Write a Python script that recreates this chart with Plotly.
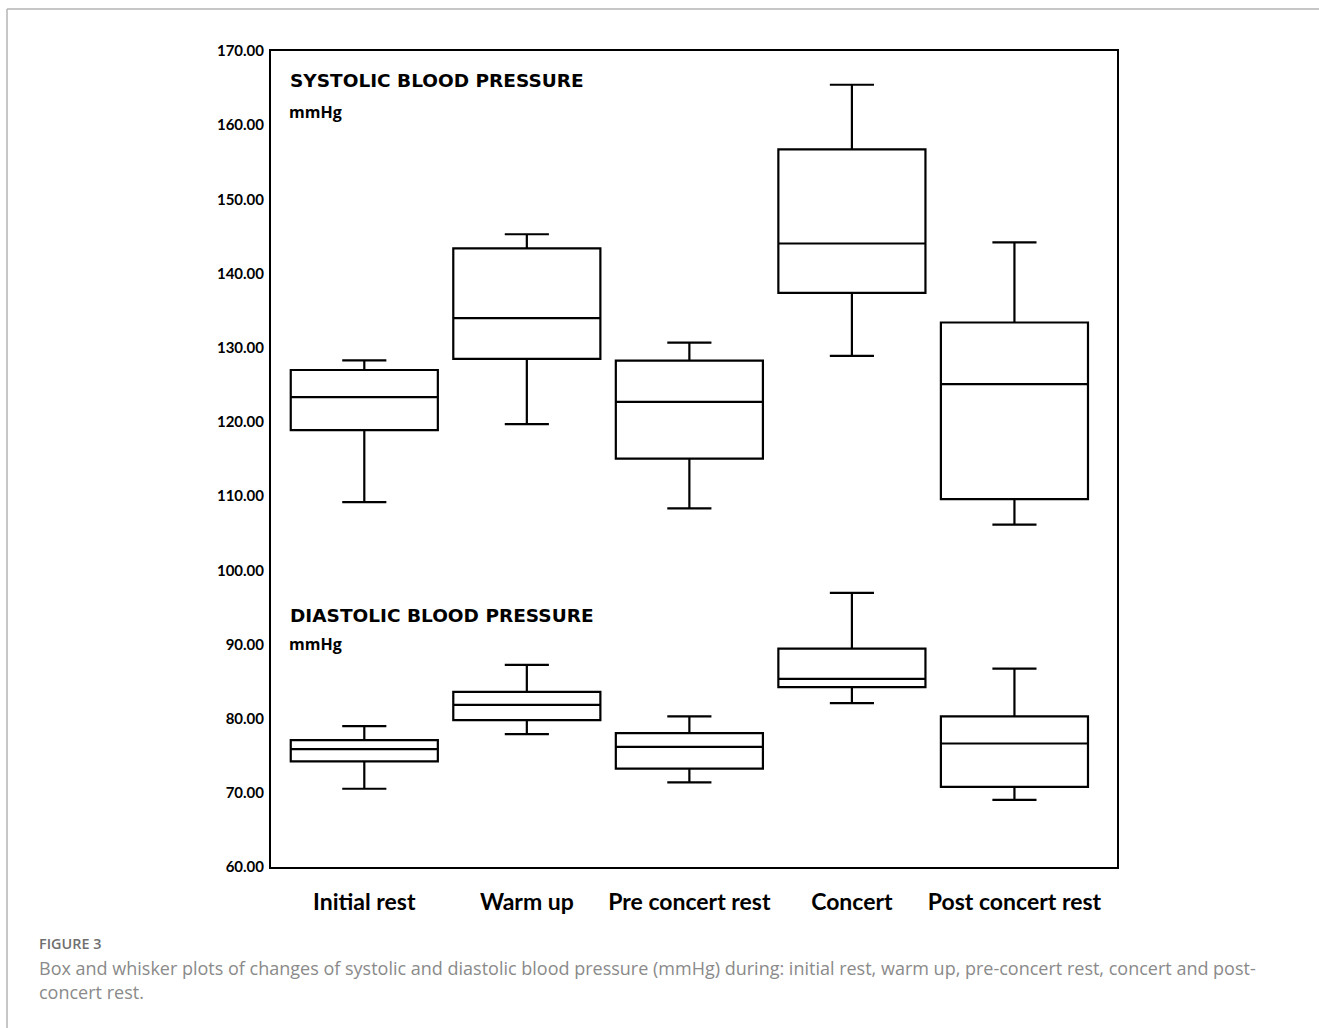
import plotly.graph_objects as go

categories = ["Initial rest", "Warm up", "Pre concert rest", "Concert", "Post concert rest"]

sys_lower = [109.2, 119.7, 108.35, 128.9, 106.15]
sys_q1 = [118.9, 128.5, 115.05, 137.4, 109.6]
sys_median = [123.35, 134.0, 122.7, 144.05, 125.1]
sys_q3 = [127.0, 143.4, 128.25, 156.75, 133.4]
sys_upper = [128.3, 145.3, 130.7, 165.45, 144.2]

dia_lower = [70.55, 77.9, 71.4, 82.1, 69.05]
dia_q1 = [74.25, 79.8, 73.25, 84.25, 70.8]
dia_median = [75.9, 81.85, 76.2, 85.35, 76.65]
dia_q3 = [77.1, 83.6, 78.05, 89.45, 80.3]
dia_upper = [79.0, 87.25, 80.3, 96.95, 86.75]

y_ticks = [60, 70, 80, 90, 100, 110, 120, 130, 140, 150, 160, 170]

BOLD = "Lato"
WIDE = "Open Sans"
TITLE = "DejaVu Sans"

fig = go.Figure()
for name, lo, q1, med, q3, up in [
    ("Systolic", sys_lower, sys_q1, sys_median, sys_q3, sys_upper),
    ("Diastolic", dia_lower, dia_q1, dia_median, dia_q3, dia_upper),
]:
    fig.add_trace(go.Box(
        name=name, x=categories, lowerfence=lo, q1=q1, median=med, q3=q3, upperfence=up,
        line=dict(color="black", width=2.2), fillcolor="rgba(255,255,255,0)",
        whiskerwidth=0.3, width=0.905, boxpoints=False, showlegend=False,
        hoverinfo="skip",
    ))

fig.update_layout(
    width=1319, height=1028,
    margin=dict(l=271, r=202, t=51, b=161),
    paper_bgcolor="white", plot_bgcolor="white",
    boxmode="overlay",
    xaxis=dict(type="category", range=[-0.574, 4.631], showline=True, mirror=True,
               linecolor="black", linewidth=2, showgrid=False, zeroline=False,
               ticks="", tickfont=dict(family=BOLD, size=23, color="black", weight="bold"),
               ticklabelstandoff=13),
    yaxis=dict(range=[60, 170], tickvals=y_ticks, tickformat=".2f", showline=True, mirror=True,
               linecolor="black", linewidth=2, showgrid=False, zeroline=False,
               ticks="", tickfont=dict(family=BOLD, size=15, color="black", weight="bold"),
               ticklabelstandoff=2),
    font=dict(family=BOLD),
)

def px_x(px):
    return (px - 271) / 846.0

def px_y(py):
    return (867 - py) / 816.0

def add_text(text, x, y, size, color="black", weight="bold", family=WIDE):
    fig.add_annotation(text=text, xref="paper", yref="paper", x=px_x(x), y=px_y(y),
                       xanchor="left", yanchor="middle", showarrow=False,
                       font=dict(family=family, size=size, color=color, weight=weight))

add_text("SYSTOLIC BLOOD PRESSURE", 288, 81, 18.5, family=TITLE)
add_text("mmHg", 287, 112, 16)
add_text("DIASTOLIC BLOOD PRESSURE", 288, 615, 18.5, family=TITLE)
add_text("mmHg", 287, 644, 16)
add_text("FIGURE 3", 37, 943, 14.4, color="#6f6f6f", weight=600, family="Open Sans")
add_text("Box and whisker plots of changes of systolic and diastolic blood pressure (mmHg) during: initial rest, warm up, pre-concert rest, concert and post-",
         37, 968, 18.0, color="#8a8a8a", weight="normal", family="Open Sans")
add_text("concert rest.", 37, 992, 18.0, color="#8a8a8a", weight="normal", family="Open Sans")

# outer light frame
fig.add_shape(type="line", xref="paper", yref="paper", x0=px_x(7), x1=px_x(1319), y0=px_y(9), y1=px_y(9),
              line=dict(color="#b5b5b5", width=1.5))
fig.add_shape(type="line", xref="paper", yref="paper", x0=px_x(7), x1=px_x(7), y0=px_y(9), y1=px_y(1028),
              line=dict(color="#b5b5b5", width=1.5))

fig.write_html("out.html", config={"displayModeBar": False},
               post_script="document.body.style.margin='0';document.body.style.overflow='hidden';")
